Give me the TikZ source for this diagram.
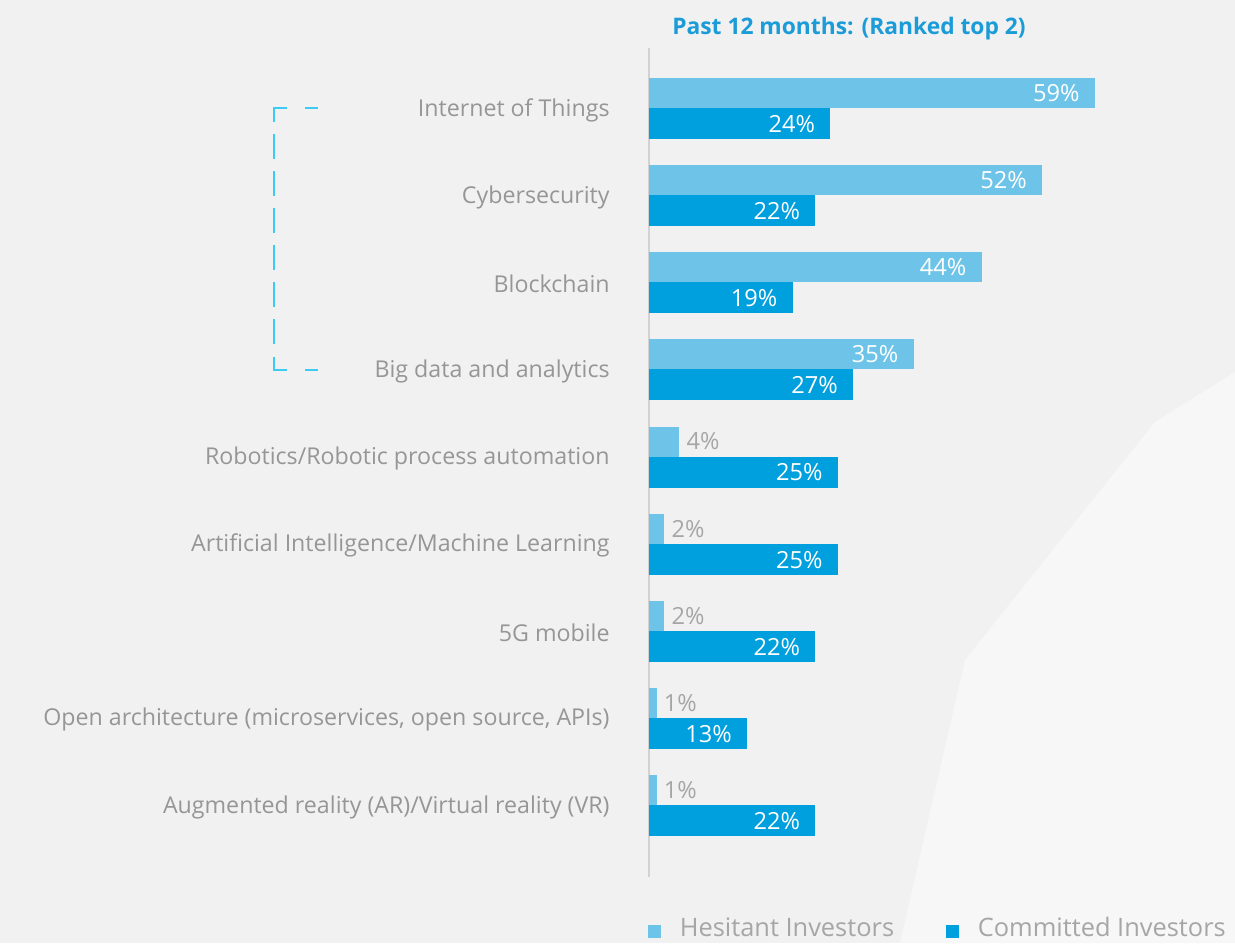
\documentclass[tikz,border=0pt]{standalone}
\usepackage{fontspec}
\setmainfont{Open Sans}
\usepackage{tikz}
\usetikzlibrary{positioning}

\definecolor{hescol}{HTML}{6EC4E8}
\definecolor{comcol}{HTML}{009FDD}
\definecolor{titlecol}{HTML}{1B9CD8}
\definecolor{labelcol}{HTML}{969696}
\definecolor{valcol}{HTML}{A6A6A6}
\definecolor{bgcol}{HTML}{F1F1F1}
\definecolor{bglight}{HTML}{F7F7F7}
\definecolor{axiscol}{HTML}{D2D2D2}
\definecolor{bracketcol}{HTML}{3CCBF4}

\tikzset{
	catlabel/.style={anchor=east, inner sep=0pt, text=labelcol, font=\fontsize{11.6}{13}\selectfont},
	valin/.style={anchor=east, inner sep=0pt, xshift=-7.5pt, text=white, font=\fontsize{11.8}{13}\selectfont},
	valout/.style={anchor=west, inner sep=0pt, xshift=3.5pt, text=valcol, font=\fontsize{11.8}{13}\selectfont},
	legkey/.style={minimum size=6.5pt, inner sep=0pt},
	legtext/.style={anchor=west, inner sep=0pt, text=valcol, font=\fontsize{12.7}{14}\selectfont},
	bracket/.style={draw=bracketcol, line width=1pt},
}

\begin{document}
\begin{tikzpicture}[x=0.5pt, y=-0.5pt]

	\useasboundingbox (0,0) rectangle (1235,943);
	\fill[bgcol] (0,0) rectangle (1235,943);
	\fill[bglight] (1235,372) -- (1155,422) -- (965,660) -- (900,943) -- (1235,943) -- cycle;

	% title and axis
	\node[text=titlecol, font=\fontsize{11.4}{13}\selectfont\bfseries] (title) at (849,29) {Past 12 months: (Ranked top 2)};
	\coordinate (axtop) at (649,48);
	\coordinate (axbot) at (649,877);
	\draw[axiscol, line width=1pt] (axtop) -- (axbot);

	% bars
	\foreach \i/\name/\h/\c/\hpos in {
		1/Internet of Things/59/24/valin,
		2/Cybersecurity/52/22/valin,
		3/Blockchain/44/19/valin,
		4/Big data and analytics/35/27/valin,
		5/Robotics\slash Robotic process automation/4/25/valout,
		6/Artificial Intelligence\slash Machine Learning/2/25/valout,
		7/5G mobile/2/22/valout,
		8/{Open architecture (microservices, open source, APIs)}/1/13/valout,
		9/Augmented reality (AR)\slash Virtual reality (VR)/1/22/valout}{
		\pgfmathsetmacro{\rowy}{78+(\i-1)*87.125}
		\fill[hescol] (649,\rowy) rectangle ({649+\h*7.56},\rowy+30);
		\fill[comcol] (649,\rowy+30) rectangle ({649+\c*7.56},\rowy+61);
		\node[\hpos] (hes\i) at ({649+\h*7.56},\rowy+15) {\h\%};
		\node[valin] (com\i) at ({649+\c*7.56},\rowy+46) {\c\%};
		\node[catlabel] (cat\i) at (610,\rowy+32) {\name};
	}

	% bracket
	\coordinate (brtop) at (274,108);
	\coordinate (brbot) at (274,370);
	\draw[bracket] (287,108) -- (brtop) -- (274,122);
	\draw[bracket] (274,357) -- (brbot) -- (287,370);
	\draw[bracket] (305,108) -- (318,108);
	\draw[bracket] (305,370) -- (318,370);
	\draw[bracket, dash pattern=on 12.5pt off 6pt] (274,134) -- (274,345);

	% legend
	\node[legkey, fill=hescol] (heskey) at (654.5,931) {};
	\node[legtext, right=9pt of heskey, yshift=2pt] (hestext) {Hesitant Investors};
	\node[legkey, fill=comcol] (comkey) at (952.5,931) {};
	\node[legtext, right=9pt of comkey, yshift=2pt] (comtext) {Committed Investors};
\end{tikzpicture}
\end{document}
